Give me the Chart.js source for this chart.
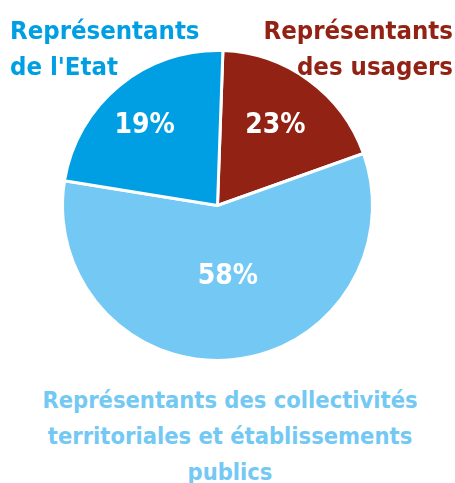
<!DOCTYPE html>
<html>
<head>
<meta charset="utf-8">
<script src="https://cdn.jsdelivr.net/npm/chart.js@4"></script>
<style>
  body { margin: 0; background: #fff; width: 455px; height: 483px; position: relative; overflow: hidden; }
  .t { position: absolute; font-family: "DejaVu Sans Condensed", "DejaVu Sans", sans-serif; font-weight: bold; white-space: nowrap; }
  #box { position: absolute; left: 57px; top: 45px; width: 321px; height: 321px; }
</style>
</head>
<body>
<div id="box"><canvas id="pie"></canvas></div>
<div class="t" id="tEtat" style="left:10px; top:12px; font-size:25.5px; line-height:36px; color:#009fe3;">Représentants<br>de l'Etat</div>
<div class="t" id="tUsagers" style="right:2px; top:12px; font-size:25.5px; line-height:36px; color:#922214; text-align:right;">Représentants<br>des usagers</div>
<div class="t" id="tColl" style="left:0; width:460px; top:382px; font-size:23.5px; line-height:36px; color:#73c9f3; text-align:center;">Représentants des collectivités<br>territoriales et établissements<br>publics</div>
<script>
// parts du camembert (sens horaire depuis le haut)
var categories = ["Représentants des usagers", "Représentants des collectivités territoriales et établissements publics", "Représentants de l'Etat"];
var values = [19, 58, 23];
var valueLabels = ["23%", "58%", "19%"];
var colors = ["#922214", "#73c9f3", "#009fe3"];

// etiquettes blanches dans les parts
var labelPlugin = {
    id: 'pctLabels',
    afterDatasetsDraw: function (chart) {
        var ctx = chart.ctx;
        var meta = chart.getDatasetMeta(0);
        var dist = [0.72, 0.46, 0.70];
        var shift = [[-8, 10], [4, 0], [-4, 4]];
        ctx.save();
        ctx.fillStyle = '#ffffff';
        ctx.font = 'bold 28px "DejaVu Sans Condensed", "DejaVu Sans", sans-serif';
        ctx.textAlign = 'center';
        ctx.textBaseline = 'middle';
        meta.data.forEach(function (arc, i) {
            var mid = (arc.startAngle + arc.endAngle) / 2;
            var r = arc.outerRadius * dist[i];
            var x = arc.x + Math.cos(mid) * r + shift[i][0];
            var y = arc.y + Math.sin(mid) * r + shift[i][1];
            ctx.fillText(valueLabels[i], x, y);
        });
        ctx.restore();
    }
};

var pie = new Chart(document.getElementById('pie').getContext('2d'), {
    type: 'pie',
    data: {
        labels: categories,
        datasets: [{
            data: values,
            backgroundColor: colors,
            borderColor: '#ffffff',
            borderWidth: 3,
            radius: 155
        }]
    },
    options: {
        responsive: true,
        maintainAspectRatio: true,
        animation: false,
        rotation: 2,
        plugins: {
            legend: { display: false },
            tooltip: { enabled: false }
        }
    },
    plugins: [labelPlugin]
});
</script>
</body>
</html>
